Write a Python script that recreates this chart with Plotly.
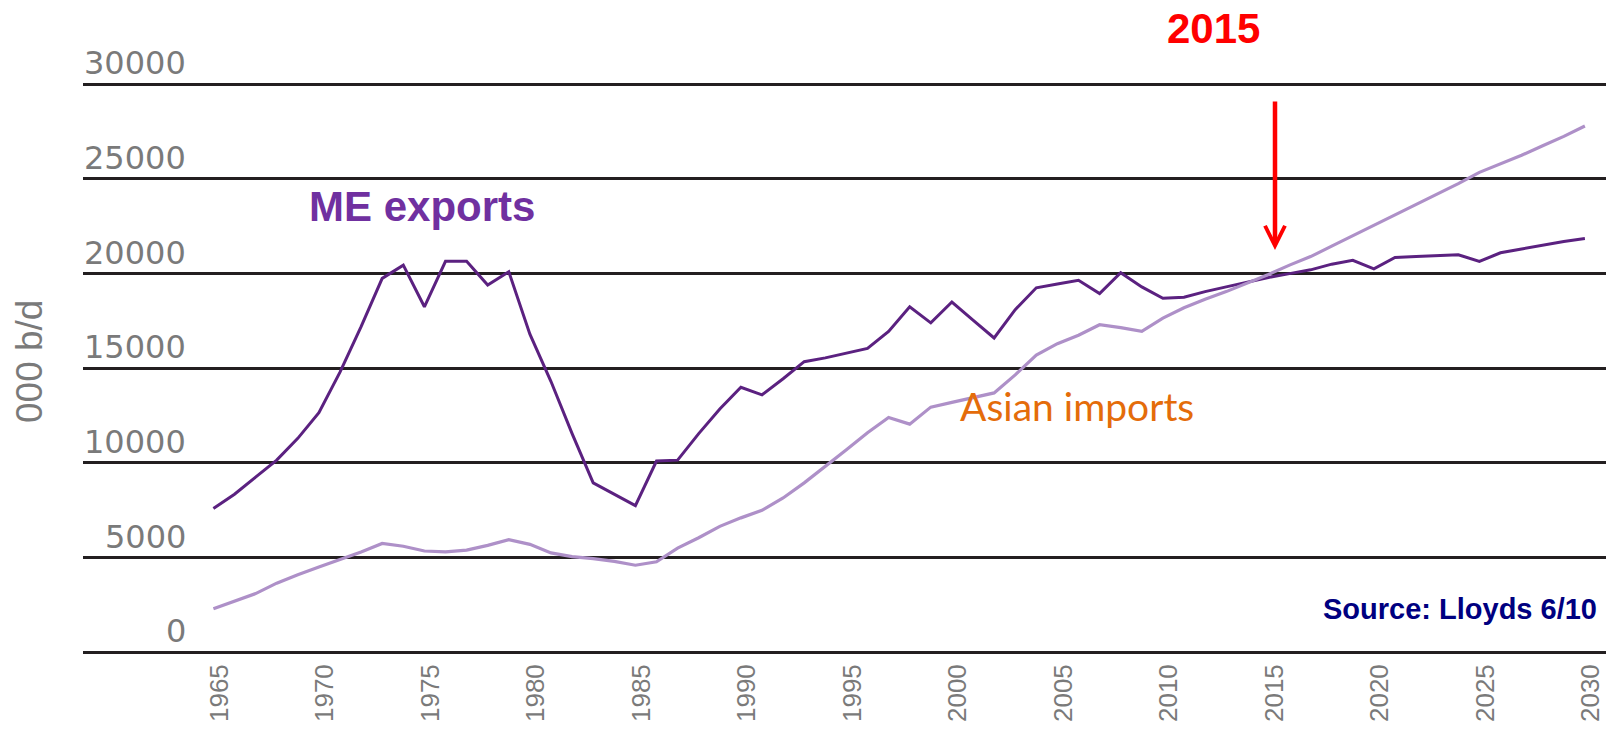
import plotly.graph_objects as go

# ---------------- data ----------------
years = list(range(1965, 2031))

me_exports = [
    7600, 8350, 9250, 10150, 11300, 12650, 14800, 17200, 19750, 20450,   # 1965-1974
    18250, 20650, 20650, 19400, 20100, 16800, 14300, 11550, 8950, 8350,   # 1975-1984
    7750, 10100, 10150, 11550, 12850, 14000, 13600, 14450, 15350, 15550,  # 1985-1994
    15800, 16050, 16950, 18250, 17400, 18500, 17550, 16600, 18100, 19250, # 1995-2004
    19450, 19650, 18950, 20050, 19300, 18700, 18750, 19050, 19300, 19550, # 2005-2014
    19800, 20000, 20200, 20500, 20700, 20250, 20850, 20900, 20950, 21000, # 2015-2024
    20650, 21100, 21300, 21500, 21700, 21850,                             # 2025-2030
]

asian_imports = [
    2300, 2700, 3100, 3650, 4100, 4500, 4900, 5300, 5750, 5600,           # 1965-1974
    5350, 5300, 5400, 5650, 5950, 5700, 5250, 5050, 4950, 4800,           # 1975-1984
    4600, 4780, 5500, 6050, 6650, 7100, 7500, 8150, 8950, 9800,           # 1985-1994
    10700, 11600, 12400, 12050, 12950, 13200, 13450, 13700, 14650, 15700, # 1995-2004
    16300, 16750, 17300, 17150, 16950, 17650, 18200, 18650, 19050, 19500, # 2005-2014
    19950, 20450, 20900, 21450, 22000, 22550, 23100, 23650, 24200, 24750, # 2015-2024
    25350, 25800, 26250, 26750, 27250, 27800,                             # 2025-2030
]

x_tick_years = [1965, 1970, 1975, 1980, 1985, 1990, 1995, 2000, 2005, 2010, 2015, 2020, 2025, 2030]
x_tick_labels = [str(v) for v in x_tick_years]
y_tick_values = [0, 5000, 10000, 15000, 20000, 25000, 30000]
y_tick_labels = ["0", "5000", "10000", "15000", "20000", "25000", "30000"]

# ---------------- geometry ----------------
W, H = 1618, 731
L, R, T, B = 83, 1606, 70, 656          # plot-area edges in pixels
x0_px, px_per_year = 213.4, 21.1        # where 1965 sits, pixels per year
y0_px, px_per_unit = 652.3, 568.0 / 30000

x_range = [1965 - (x0_px - L) / px_per_year, 1965 + (R - x0_px) / px_per_year]
y_range = [(y0_px - B) / px_per_unit, (y0_px - T) / px_per_unit]


def pxp(xp):
    return (xp - L) / (R - L)


def pyp(yp):
    return (B - yp) / (B - T)


GRAY = "#7a7a7a"

fig = go.Figure()
fig.add_trace(go.Scatter(
    x=years, y=me_exports, mode="lines", name="ME exports",
    line=dict(color="#5B2180", width=3), hoverinfo="x+y",
))
fig.add_trace(go.Scatter(
    x=years, y=asian_imports, mode="lines", name="Asian imports",
    line=dict(color="#AE90C8", width=3.2), hoverinfo="x+y",
))

annotations = []
# y tick labels sit above their grid lines
for v, lab in zip(y_tick_values, y_tick_labels):
    annotations.append(dict(
        x=pxp(188), xref="paper", y=v, yref="y", yshift=21,
        text=lab, showarrow=False, xanchor="right", yanchor="middle",
        font=dict(family="DejaVu Sans", size=32, color=GRAY),
    ))

# y axis title
annotations.append(dict(
    x=pxp(29), xref="paper", y=pyp(362), yref="paper",
    text="000 b/d", textangle=-90, showarrow=False,
    xanchor="center", yanchor="middle",
    font=dict(family="Liberation Sans", size=37, color=GRAY),
))

# series labels
annotations.append(dict(
    x=pxp(307), xref="paper", y=pyp(206), yref="paper",
    text="<b>ME exports</b>", showarrow=False, xanchor="left", yanchor="middle",
    font=dict(family="Liberation Sans", size=42, color="#7030A0"),
))
annotations.append(dict(
    x=pxp(958), xref="paper", y=pyp(406), yref="paper",
    text="Asian imports", showarrow=False, xanchor="left", yanchor="middle",
    font=dict(family="Lato", size=39, color="#E46C0A"),
))

# 2015 marker
annotations.append(dict(
    x=pxp(1213), xref="paper", y=pyp(28.5), yref="paper",
    text="<b>2015</b>", showarrow=False, xanchor="center", yanchor="middle",
    font=dict(family="Liberation Sans", size=42, color="#FF0000"),
))
annotations.append(dict(
    x=pxp(1275), xref="paper", y=pyp(250), yref="paper",
    ax=0, ay=-150, axref="pixel", ayref="pixel",
    text="", showarrow=True, arrowhead=5, arrowsize=0.87, arrowwidth=4.5,
    arrowcolor="#FF0000", standoff=0,
))

# source note
annotations.append(dict(
    x=pxp(1599), xref="paper", y=pyp(609), yref="paper",
    text="<b>Source: Lloyds 6/10</b>", showarrow=False,
    xanchor="right", yanchor="middle",
    font=dict(family="Liberation Sans", size=29, color="#000080"),
))

fig.update_layout(
    width=W, height=H, autosize=False,
    margin=dict(l=L, r=W - R, t=T, b=H - B, pad=0),
    paper_bgcolor="white", plot_bgcolor="white",
    showlegend=False,
    annotations=annotations,
    xaxis=dict(
        range=x_range, showgrid=False, zeroline=False, showline=False,
        tickmode="array", tickvals=x_tick_years, ticktext=x_tick_labels,
        tickangle=-90, ticks="", ticklabelshift=6, ticklabelstandoff=2,
        tickfont=dict(family="Liberation Sans", size=26, color=GRAY),
        automargin=False, fixedrange=True,
    ),
    yaxis=dict(
        range=y_range, showgrid=True, gridcolor="#231F20", gridwidth=3,
        zeroline=False, showline=False, showticklabels=False,
        tickmode="array", tickvals=y_tick_values, ticks="",
        automargin=False, fixedrange=True,
    ),
)

fig.write_html(
    "out.html",
    include_plotlyjs=True,
    config={"displayModeBar": False},
    post_script="document.body.style.margin='0';document.body.style.overflow='hidden';",
)
